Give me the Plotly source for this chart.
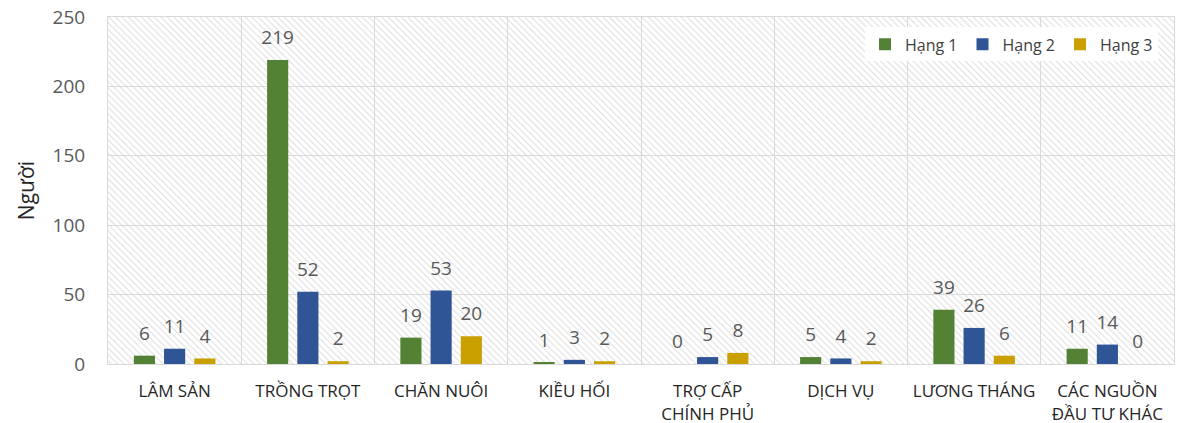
import plotly.graph_objects as go

categories = ["LÂM SẢN", "TRỒNG TRỌT", "CHĂN NUÔI", "KIỀU HỐI", "TRỢ CẤP<br>CHÍNH PHỦ",
              "DỊCH VỤ", "LƯƠNG THÁNG", "CÁC NGUỒN<br>ĐẦU TƯ KHÁC"]
hang1 = [6, 219, 19, 1, 0, 5, 39, 11]
hang2 = [11, 52, 53, 3, 5, 4, 26, 14]
hang3 = [4, 2, 20, 2, 8, 2, 6, 0]
series_names = ["Hạng 1", "Hạng 2", "Hạng 3"]
colors = ["#548235", "#2F5597", "#C9A000"]
y_ticks = [0, 50, 100, 150, 200, 250]

FONT = "Open Sans"

fig = go.Figure()
for name, vals, col in zip(series_names, [hang1, hang2, hang3], colors):
    fig.add_trace(go.Bar(
        x=categories, y=vals, name=name, marker=dict(color=col, line=dict(width=0)),
        offsetgroup=name,
    ))
for name, vals in zip(series_names, [hang1, hang2, hang3]):
    fig.add_trace(go.Scatter(
        x=categories, y=vals, mode="markers+text", text=[str(v) for v in vals],
        textposition="top center", offsetgroup=name, showlegend=False,
        marker=dict(size=16, opacity=0), hoverinfo="skip",
        textfont=dict(family=FONT, size=19, color="#595959"), cliponaxis=False,
    ))

svg = ("data:image/svg+xml;utf8,"
       "<svg xmlns='http://www.w3.org/2000/svg' width='1067' height='347' viewBox='0 0 1067 347' preserveAspectRatio='none'>"
       "<defs><pattern id='p' width='4.6' height='4.6' patternUnits='userSpaceOnUse' patternTransform='rotate(-45)'>"
       "<rect x='0' y='0' width='1.1' height='4.6' fill='%23e0e0e0'/></pattern></defs>"
       "<rect width='1067' height='347' fill='white'/><rect width='1067' height='347' fill='url(%23p)'/></svg>")

fig.update_layout(
    width=1180, height=423,
    margin=dict(l=108, r=6, t=17, b=59, autoexpand=False),
    paper_bgcolor="white", plot_bgcolor="rgba(0,0,0,0)",
    barmode="group", bargap=0.32, bargroupgap=0.3,
    scattermode="group", scattergap=0.32,
    font=dict(family=FONT, color="#404040"),
    images=[dict(source=svg, xref="paper", yref="paper", x=0, y=1, sizex=1, sizey=1,
                 xanchor="left", yanchor="top", sizing="stretch", layer="below")],
    legend=dict(orientation="h", x=0.985, y=0.97, xanchor="right", yanchor="top",
                bgcolor="white", font=dict(family=FONT, size=16, color="#404040"),
                itemwidth=30, traceorder="normal"),
    showlegend=True,
)
fig.update_xaxes(
    tickson="boundaries", showgrid=True, gridcolor="#d9d9d9", gridwidth=1,
    showline=True, linecolor="#d9d9d9", mirror=True, ticks="", automargin=False,
    tickfont=dict(family=FONT, size=17, color="#262626"), ticklabelstandoff=12,
)
fig.update_yaxes(
    range=[0, 250], tickvals=y_ticks, showgrid=True, gridcolor="#d9d9d9", gridwidth=1,
    showline=True, linecolor="#d9d9d9", mirror=True, ticks="", zeroline=False, automargin=False,
    tickfont=dict(family=FONT, size=19, color="#595959"), ticklabelstandoff=18,
    title=dict(text="Người", font=dict(family=FONT, size=21, color="#262626"), standoff=12),
)
fig.write_html("out.html", config={"displayModeBar": False},
               post_script="document.body.style.margin='0';document.body.style.overflow='hidden';")
